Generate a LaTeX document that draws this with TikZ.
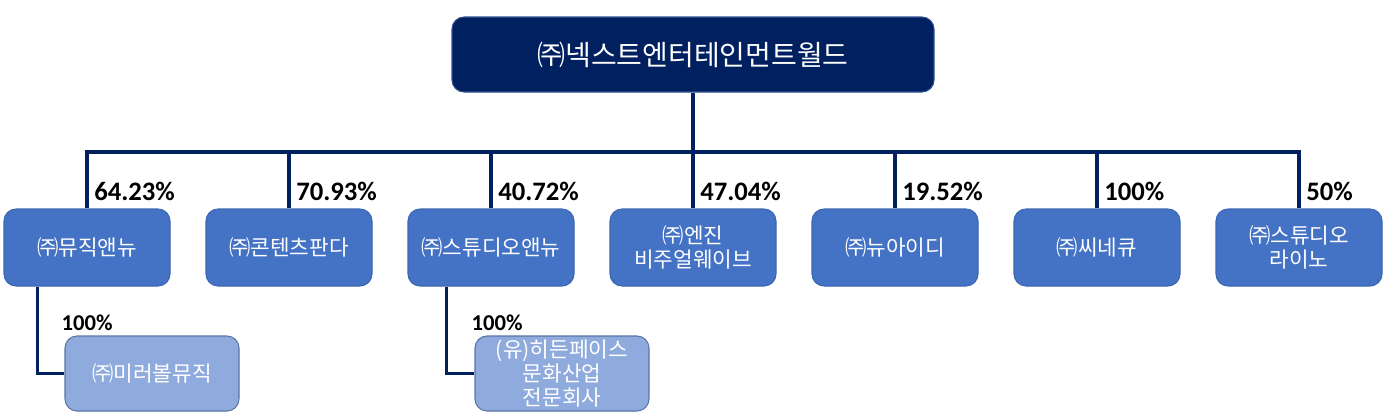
\documentclass[tikz,border=0pt]{standalone}
\usepackage{fontspec}
\setmainfont{Noto Sans CJK KR}
\newfontfamily\pctfont{Carlito}
\usepackage{tikz}
\usetikzlibrary{positioning}
\usetikzlibrary{calc}
\definecolor{navy}{HTML}{002060}
\definecolor{firmblue}{HTML}{4472C4}
\definecolor{subblue}{HTML}{8FAADC}
\definecolor{edgeblue}{HTML}{2F528F}
\tikzset{
  headbox/.style={rectangle, rounded corners=9pt, fill=navy, draw=edgeblue,
    line width=0.8pt, text=white, minimum width=361.5pt, minimum height=56.25pt,
    font=\fontsize{21}{24}\selectfont},
  firmbox/.style={rectangle, rounded corners=9pt, fill=firmblue,
    draw=firmblue!90!black, line width=0.8pt, text=white, align=center,
    minimum width=124.5pt, minimum height=57.75pt, inner sep=1pt,
    font=\fontsize{16}{18}\selectfont},
  subbox/.style={firmbox, fill=subblue, draw=edgeblue!80,
    minimum width=130.5pt, minimum height=56.25pt},
  share/.style={anchor=base west, inner sep=0pt,
    font=\pctfont\bfseries\fontsize{20}{22}\selectfont},
  subshare/.style={share, font=\pctfont\bfseries\fontsize{17}{19}\selectfont},
  conn/.style={draw=navy, line width=2.3pt}
}

\begin{document}
\begin{tikzpicture}[x=0.75pt, y=-0.75pt, node distance=26.2pt]
    \useasboundingbox (0,0) rectangle (1388,415);

    \node[headbox] (nxt) at (693,54.5) {㈜넥스트엔터테인먼트월드};

    \node[firmbox] (c1) at (87,247.5) {㈜뮤직앤뉴};
    \node[firmbox, right = of c1] (c2) {㈜콘텐츠판다};
    \node[firmbox, right = of c2] (c3) {㈜스튜디오앤뉴};
    \node[firmbox, right = of c3] (c4) {㈜엔진\\비주얼웨이브};
    \node[firmbox, right = of c4] (c5) {㈜뉴아이디};
    \node[firmbox, right = of c5] (c6) {㈜씨네큐};
    \node[firmbox, right = of c6] (c7) {㈜스튜디오\\라이노};

    \node[subbox] (g1) at (152,373.5) {㈜미러볼뮤직};
    \node[subbox] (g2) at (562,373.5) {(유)히든페이스\\문화산업\\전문회사};

    \coordinate (bus) at (0,152);

    \draw[conn] (nxt) -- (nxt.south |- bus);
    \draw[conn] (nxt.south |- bus) -| (c1.north);
    \draw[conn] (nxt.south |- bus) -| (c2.north);
    \draw[conn] (nxt.south |- bus) -| (c3.north);
    \draw[conn] (nxt.south |- bus) -| (c4.north);
    \draw[conn] (nxt.south |- bus) -| (c5.north);
    \draw[conn] (nxt.south |- bus) -| (c6.north);
    \draw[conn] (nxt.south |- bus) -| (c7.north);

    \draw[conn] ($(c1.south west)+(34,0)$) |- (g1.west);
    \draw[conn] ($(c3.south west)+(39,0)$) |- (g2.west);

    \node[share] (p1) at ($(c1.north)+(7,-7.5)$) {64.23\%};
    \node[share] (p2) at ($(c2.north)+(7,-7.5)$) {70.93\%};
    \node[share] (p3) at ($(c3.north)+(7,-7.5)$) {40.72\%};
    \node[share] (p4) at ($(c4.north)+(7,-7.5)$) {47.04\%};
    \node[share] (p5) at ($(c5.north)+(7,-7.5)$) {19.52\%};
    \node[share] (p6) at ($(c6.north)+(7,-7.5)$) {100\%};
    \node[share] (p7) at ($(c7.north)+(7,-7.5)$) {50\%};

    \node[subshare] (q1) at ($(g1.north west)+(-3,-5)$) {100\%};
    \node[subshare] (q2) at ($(g2.north west)+(-3,-5)$) {100\%};
\end{tikzpicture}
\end{document}
